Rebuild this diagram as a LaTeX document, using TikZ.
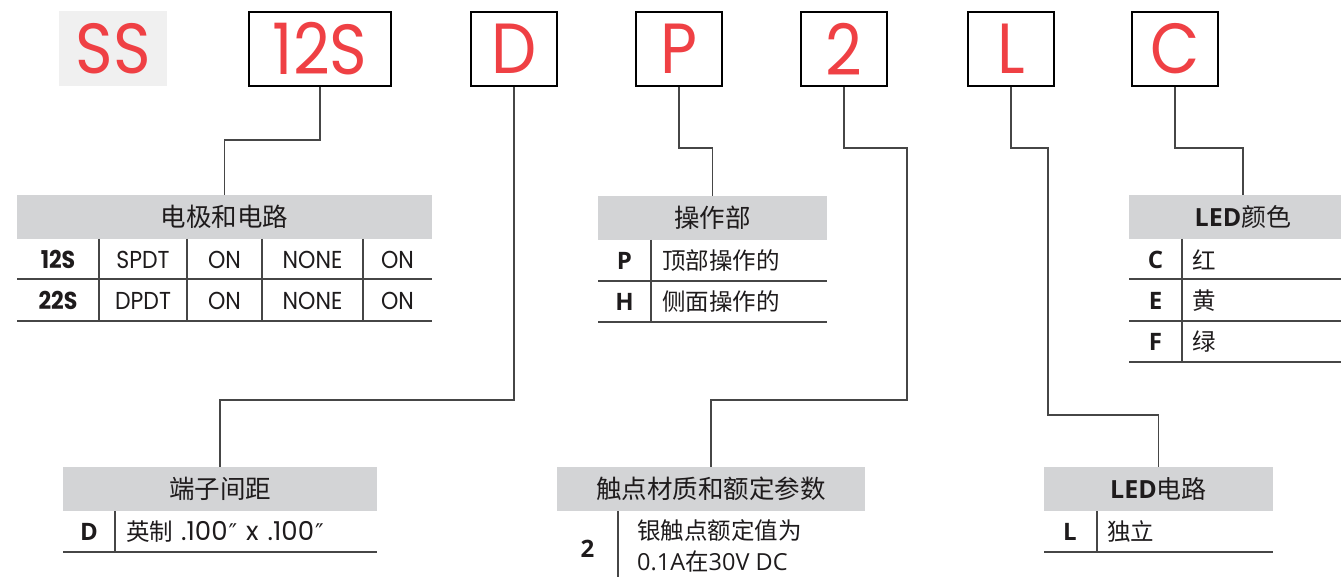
\documentclass[tikz,border=0pt]{standalone}
\usepackage{fontspec}
\setmainfont{Poppins}
\newfontfamily\fut[FakeStretch=0.9]{Poppins}
\newfontfamily\futw{Poppins}
\newfontfamily\cjk{Noto Sans CJK SC}
\newfontfamily\myr{Open Sans}
\newfontfamily\dvs{DejaVu Sans}
\definecolor{redc}{RGB}{239,64,68}
\definecolor{hdrgray}{RGB}{211,212,214}
\definecolor{ssgray}{RGB}{240,240,240}
\definecolor{ink}{RGB}{30,27,28}
\definecolor{rulec}{RGB}{70,70,70}
\tikzset{
  codebox/.style={draw=black, line width=2.2pt, minimum height=74pt, inner sep=0pt, text=redc,
    font=\fut\fontsize{71}{71}\selectfont},
  hdr/.style={fill=hdrgray, minimum height=44pt, inner sep=0pt, text=ink,
    font=\cjk\fontsize{25.5}{25.5}\selectfont},
  conn/.style={draw=rulec, line width=1.4pt},
  rule/.style={draw=rulec, line width=1.8pt},
  vrule/.style={draw=rulec, line width=1.4pt},
  lab/.style={inner sep=0pt, text=ink, font=\fut\bfseries\fontsize{24.5}{24.5}\selectfont},
  labm/.style={inner sep=0pt, text=ink, font=\myr\bfseries\fontsize{24}{24}\selectfont},
  cell/.style={inner sep=0pt, text=ink, font=\fut\fontsize{24.5}{24.5}\selectfont},
  cj/.style={inner sep=0pt, text=ink, anchor=west, font=\cjk\fontsize{23.5}{23.5}\selectfont},
}
\begin{document}
\begin{tikzpicture}[x=1pt,y=-1pt]
\useasboundingbox (0,0) rectangle (1341,577);
% top code
\node[fill=ssgray, minimum width=108pt, minimum height=75pt, inner sep=0pt, text=redc,
  font=\fut\fontsize{71}{71}\selectfont] (bSS) at (113,48.5) {SS};
\node[codebox, minimum width=142pt] (b12S) at (320,49) {12S};
\node[codebox, minimum width=86pt] (bD) at (514,49) {D};
\node[codebox, minimum width=86pt] (bP) at (679,49) {P};
\node[codebox, minimum width=86pt] (b2) at (844,49) {2};
\node[codebox, minimum width=86pt] (bL) at (1011,49) {L};
\node[codebox, minimum width=86pt] (bC) at (1175,49) {C};

% table A: poles and circuit
\node[hdr, minimum width=415pt] (hA) at (224.5,217) {电极和电路};
\draw[rule] (17,279) -- (432,279);
\draw[rule] (17,321) -- (432,321);
\foreach \x in {99,187,262,363} \draw[vrule] (\x,239) -- (\x,321);
\node[lab] (a1l) at (58,259.5) {12S};
\node[cell] (a1b) at (143,259.5) {SPDT};
\node[cell] (a1c) at (224.5,259.5) {ON};
\node[cell] (a1d) at (312.5,259.5) {NONE};
\node[cell] (a1e) at (397.5,259.5) {ON};
\node[lab] (a2l) at (58,300.5) {22S};
\node[cell] (a2b) at (143,300.5) {DPDT};
\node[cell] (a2c) at (224.5,300.5) {ON};
\node[cell] (a2d) at (312.5,300.5) {NONE};
\node[cell] (a2e) at (397.5,300.5) {ON};

% table B: actuator
\node[hdr, minimum width=229pt] (hB) at (712.5,218) {操作部};
\draw[rule] (598,281) -- (827,281);
\draw[rule] (598,322) -- (827,322);
\draw[vrule] (651,240) -- (651,322);
\node[labm] (b1l) at (624.5,261) {P};
\node[cj] (b1t) at (662,261) {顶部操作的};
\node[labm] (b2l) at (624.5,302) {H};
\node[cj] (b2t) at (662,302) {侧面操作的};

% table C: LED colour
\node[hdr, minimum width=228pt, font=\fontsize{25}{25}\selectfont] (hC) at (1243,217) {{\myr\bfseries LED}{\cjk 颜色}};
\draw[rule] (1129,279) -- (1357,279);
\draw[rule] (1129,321) -- (1357,321);
\draw[rule] (1129,362) -- (1357,362);
\draw[vrule] (1182,239) -- (1182,362);
\node[labm] (c1l) at (1155.5,259.5) {C};
\node[cj] (c1t) at (1192,259.5) {红};
\node[labm] (c2l) at (1155.5,300.5) {E};
\node[cj] (c2t) at (1192,300.5) {黄};
\node[labm] (c3l) at (1155.5,341.5) {F};
\node[cj] (c3t) at (1192,341.5) {绿};

% table D: terminal spacing
\node[hdr, minimum width=314pt] (hD) at (220,489) {端子间距};
\draw[rule] (63,552) -- (377,552);
\draw[vrule] (115,511) -- (115,552);
\node[labm] (d1l) at (89,531.5) {D};
\node[cj] (d1t) at (126,531.5) {英制\hspace{8pt}{\futw\fontsize{26}{26}\selectfont .100{\dvs\fontsize{23}{23}\selectfont\kern1pt ″}\hspace{9pt}x\hspace{9pt}.100{\dvs\fontsize{23}{23}\selectfont\kern1pt ″}}};

% table E: contact material and rating
\node[hdr, minimum width=308pt] (hE) at (711,489) {触点材质和额定参数};
\draw[vrule] (618,511) -- (618,580);
\node[labm] (e1l) at (587.5,549) {2};
\node[cj] (e1t) at (637,531) {银触点额定值为};
\node[cj] (e1u) at (637,561.5) {{\myr 0.1A}在{\myr 30V DC}};

% table F: LED circuit
\node[hdr, minimum width=229pt, font=\fontsize{25}{25}\selectfont] (hF) at (1158.5,489) {{\myr\bfseries LED}{\cjk 电路}};
\draw[rule] (1044,552) -- (1273,552);
\draw[vrule] (1097,511) -- (1097,552);
\node[labm] (f1l) at (1070,531.5) {L};
\node[cj] (f1t) at (1107,531.5) {独立};

% connectors
\draw[conn] (b12S.south) -- ++(0,53) -| (hA.north);
\draw[conn] (bD.south) -- ++(0,313) -| (hD.north);
\draw[conn] (bP.south) -- ++(0,61) -| (hB.north);
\draw[conn] (b2.south) -- ++(0,61) -- ++(63,0) -- ++(0,252) -| (hE.north);
\draw[conn] (bL.south) -- ++(0,61) -- ++(37,0) -- ++(0,267) -| (hF.north);
\draw[conn] (bC.south) -- ++(0,61) -| (hC.north);
\end{tikzpicture}
\end{document}
